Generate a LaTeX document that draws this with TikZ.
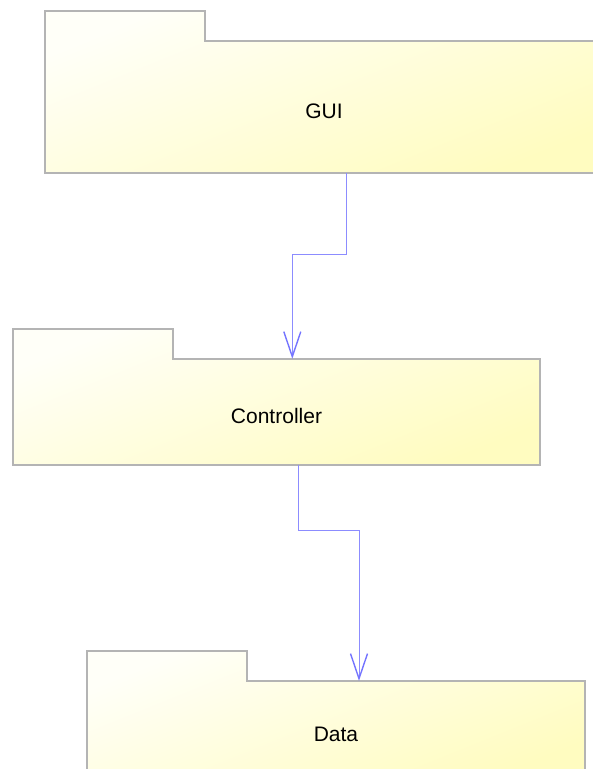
\documentclass[tikz,border=0pt]{standalone}
\usepackage{fontspec}
\setmainfont{Liberation Sans}
\usetikzlibrary{arrows.meta}

\definecolor{pkgline}{HTML}{B4B4B4}
\definecolor{pkglight}{HTML}{FFFFF8}
\definecolor{pkgdark}{HTML}{FFFCC0}
\definecolor{depline}{HTML}{8C8CFF}
\definecolor{dephead}{HTML}{7474FF}

\tikzset{
  pkgshape/.style={draw=pkgline, line width=1.3pt, top color=pkglight,
    bottom color=pkgdark, shading angle=22},
  % the name sits a little below the middle of the body
  pkgbody/.style={inner sep=0pt, minimum width=#1, text height=22pt, text depth=0pt,
    font=\fontsize{21}{24}\selectfont},
  dep/.style={draw=depline, line width=0.8pt,
    -{Straight Barb[length=25pt, width=17pt, line width=1.4pt, color=dephead]}},
}

% package outline: left x, tab top y, tab right x, body top y, body right x, body bottom y
\newcommand{\umlpackage}[6]{%
  \path[pkgshape] (#1,#2) -- (#3,#2) -- (#3,#4) -- (#5,#4) -- (#5,#6) -- (#1,#6) -- cycle;}

\begin{document}
\begin{tikzpicture}[x=1pt, y=-1pt]
  \useasboundingbox (0,0) rectangle (593,769);
  \clip (0,0) rectangle (593,769);

  % packages
  \umlpackage{45}{11}{205}{41}{603}{173}
  \umlpackage{13}{329}{173}{359}{540}{465}
  \umlpackage{87}{651}{247}{681}{585}{779}

  % package bodies with their names
  \node[pkgbody=558pt, minimum height=132pt] (gui)  at (324,107) {GUI};
  \node[pkgbody=527pt, minimum height=106pt] (ctrl) at (276.5,412) {Controller};
  \node[pkgbody=498pt, minimum height=98pt]  (data) at (336,730) {Data};

  % dependencies
  \draw[dep] ([xshift=22.7pt]gui.south) -- ++(0,81) -| ([xshift=15.8pt]ctrl.north);
  \draw[dep] ([xshift=21.8pt]ctrl.south) -- ++(0,65.3) -| ([xshift=23pt]data.north);
\end{tikzpicture}
\end{document}
